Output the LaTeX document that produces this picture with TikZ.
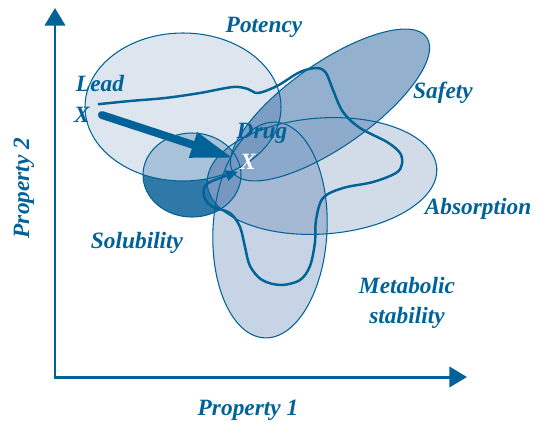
\documentclass[tikz,border=0pt]{standalone}
\usepackage{fontspec}
\setmainfont{Liberation Serif}
\usetikzlibrary{arrows.meta,calc}

\definecolor{inkblue}{RGB}{0,98,150}
\definecolor{solfill}{RGB}{46,121,168}
\definecolor{potfill}{RGB}{210,220,234}
\definecolor{absfill}{RGB}{165,185,212}
\definecolor{solabs}{RGB}{118,152,192}
\definecolor{safefill}{RGB}{136,167,202}
\definecolor{regionblue}{RGB}{20,75,145}

% centre x / centre y / x radius / y radius / tilt / colour / opacity
\def\blobs{192/175/49/42/0/solfill/1,
  183/107/98/74/0/potfill/0.75,
  322/176/115/58/4/absfill/0.5,
  270/230/57/108/-3/regionblue/0.24}

\begin{document}
\begin{tikzpicture}[x=0.02cm,y=-0.02cm,
  tag/.style={text=inkblue,font=\bfseries\itshape\fontsize{13.3}{17}\selectfont,inner sep=1pt},
  axisline/.style={draw=inkblue,line width=1.7pt,
    arrows={Triangle[length=10pt,width=11.5pt]-Triangle[length=10pt,width=11.5pt]}},
  rim/.style={draw=inkblue,line width=0.6pt},
  route/.style={draw=inkblue,line width=1.4pt,-{Triangle[length=7pt,width=6pt]}},
  jump/.style={draw=inkblue,line width=4.5pt,line cap=round,-{Triangle[length=24pt,width=14pt]}},
  safetilt/.style={rotate around={35:(330,105)}}]
\useasboundingbox (0,0) rectangle (547,423);

% property regions
\foreach \cx/\cy/\rx/\ry/\tilt/\col/\op in \blobs
  \fill[\col,fill opacity=\op,rotate around={\tilt:(\cx,\cy)}] (\cx,\cy) ellipse [x radius=\rx,y radius=\ry];
% solubility inside absorption
\begin{scope}
  \clip (192,175) ellipse [x radius=49,y radius=42];
  \fill[solabs,rotate around={4:(322,176)}] (322,176) ellipse [x radius=115,y radius=58];
\end{scope}
% safety on top, darker where it meets potency
\fill[safefill,fill opacity=0.9,safetilt] (330,105) ellipse [x radius=118,y radius=42];
\begin{scope}
  \clip (183,107) ellipse [x radius=98,y radius=74];
  \fill[regionblue,fill opacity=0.15,safetilt] (330,105) ellipse [x radius=118,y radius=42];
\end{scope}
\foreach \cx/\cy/\rx/\ry/\tilt/\col/\op in \blobs
  \draw[rim,rotate around={\tilt:(\cx,\cy)}] (\cx,\cy) ellipse [x radius=\rx,y radius=\ry];
\draw[rim,safetilt] (330,105) ellipse [x radius=118,y radius=42];

% axes
\coordinate (origin) at (55,377);
\coordinate (ytip) at (55,8);
\coordinate (xtip) at (467,377);
\draw[axisline] (ytip) -- (origin) -- (xtip);
\node[tag] (prop1) at (248,410) {Property 1};
\node[tag,rotate=90] (prop2) at (24,188) {Property 2};

% labels
\node[tag] (potency) at (264,27) {Potency};
\node[tag] (safety) at (443,93) {Safety};
\node[tag] (absorption) at (478,209) {Absorption};
\node[tag] (solubility) at (137,243) {Solubility};
\node[tag,align=center] (metabolic) at (407,303) {Metabolic\\stability};
\node[tag] (lead) at (100,84) {Lead};
\node[tag] (leadx) at (82,115) {X};
\node[tag] (drug) at (262,133) {Drug};
\node[tag,text=white] (drugx) at (248,162) {X};

% optimisation route and direct jump
\draw[route] plot[smooth,tension=0.55] coordinates {($(leadx.north east)+(6,-1)$)
  (130,101) (165,98) (200,93) (233,87) (248,89) (258,93) (277,86) (300,72)
  (317,68) (326,73) (333,90) (343,112) (360,128) (387,142) (400,153) (402,164)
  (396,173) (373,182) (343,188) (323,198) (316,220) (315,242) (310,266)
  (300,280) (281,285) (262,280) (250,266) (245,247) (240,227) (230,213)
  (213,207) (205,199) (204,189) (210,182) (drugx.south west)};
\draw[jump] ($(leadx.east)+(10,0)$) -- ($(drugx.west)+(-5,-4)$);
\end{tikzpicture}
\end{document}
